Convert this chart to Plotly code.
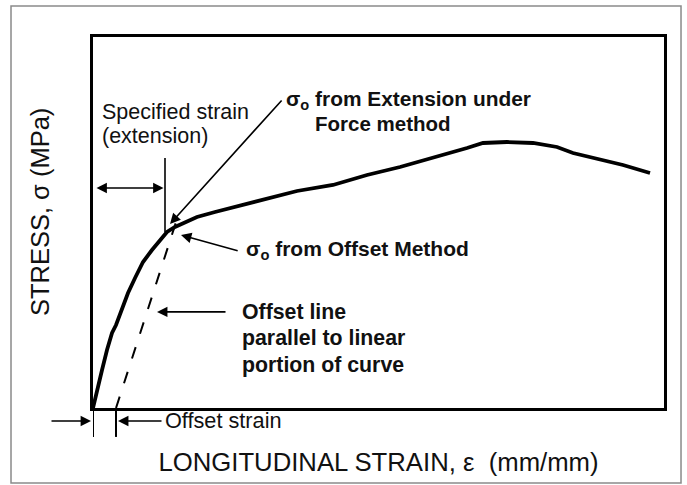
import plotly.graph_objects as go

# ---- data (arbitrary units: strain 0-100, stress 0-100) ----
strain = [0, 0.7, 1.58, 2.45, 3.33, 4.03, 4.9, 6.13, 7.36, 8.76, 10.33, 11.73, 12.96,
          14.36, 16.11, 18.21, 21.37, 23.99, 29.77, 35.73, 42.03, 47.99, 53.77, 59.54,
          65.5, 68.3, 72.5, 77.06, 81.26, 84.06, 88.79, 92.82, 97.55]
stress = [0, 4.85, 10.24, 15.63, 20.22, 22.37, 25.88, 31.0, 35.04, 39.35, 42.59, 45.28,
          47.44, 48.79, 50.13, 51.48, 52.83, 53.91, 56.06, 58.49, 60.11, 62.8, 64.96,
          67.39, 70.08, 71.43, 71.7, 71.43, 70.35, 68.73, 67.12, 65.5, 63.34]

offset_strain = 4.03           # offset strain
offset_line_x = [4.03, 14.54]  # offset line (parallel to linear portion)
offset_line_y = [0, 50.1]
specified_strain = 12.61       # specified strain (extension)
specified_y = [47.4, 67.4]

x_title = "LONGITUDINAL STRAIN, \u03b5  (mm/mm)"
y_title = "STRESS, \u03c3 (MPa)"

FONT = "Liberation Sans, Arial, sans-serif"
XR = [0, 100]
YR = [0, 100]

fig = go.Figure()
fig.add_trace(go.Scatter(x=strain, y=stress, mode="lines",
                         line=dict(color="black", width=3.8), hoverinfo="skip"))
fig.add_trace(go.Scatter(x=offset_line_x, y=offset_line_y, mode="lines",
                         line=dict(color="black", width=2, dash="12px,14px"),
                         hoverinfo="skip"))
fig.add_trace(go.Scatter(x=[specified_strain, specified_strain], y=specified_y, mode="lines",
                         line=dict(color="black", width=1.6), hoverinfo="skip"))


def frac(v, r):
    return (v - r[0]) / (r[1] - r[0])


below_y = -3.5  # level of the offset-strain arrows (data units, below the axis)

shapes = [
    # offset strain tick marks below the axis
    dict(type="line", xref="x", yref="paper", x0=0, x1=0, y0=0, y1=-0.078,
         line=dict(color="black", width=2)),
    dict(type="line", xref="x", yref="paper", x0=offset_strain, x1=offset_strain,
         y0=0, y1=-0.078, line=dict(color="black", width=2)),
    # outer frame
    dict(type="rect", xref="paper", yref="paper", x0=-0.1436, x1=1.0298, y0=-0.2022, y1=1.0836,
         line=dict(color="#8a8a8a", width=1.5)),
]

ann = []


def txt(x, y, s, size=20, bold=False, xref="x", yref="y"):
    if bold:
        s = "<b>" + s + "</b>"
    ann.append(dict(x=x, y=y, xref=xref, yref=yref, text=s, showarrow=False,
                    xanchor="left", yanchor="middle",
                    font=dict(family=FONT, size=size, color="#111")))


def arrow(x, y, ax, ay, side="end", xref="x", yref="y", axref="x", ayref="y", xshift=0):
    ann.append(dict(x=x, y=y, ax=ax, ay=ay, xref=xref, yref=yref, axref=axref, ayref=ayref,
                    text="", showarrow=True, arrowhead=2, arrowsize=1.3, arrowwidth=1.6,
                    arrowcolor="black", arrowside=side, xshift=xshift, standoff=0,
                    startstandoff=0))


txt(1.23, 79.8, "Specified strain", 21.5)
txt(1.23, 73.3, "(extension)", 21.5)
txt(33.5, 83.0, "\u03c3<sub>o</sub> from Extension under", 20.9, True)
txt(38.5, 76.8, "Force method", 20.5, True)
txt(26.5, 42.6, "\u03c3<sub>o</sub> from Offset Method", 21, True)
txt(25.7, 25.9, "Offset line", 21.3, True)
txt(25.7, 18.9, "parallel to linear", 21.3, True)
txt(25.7, 11.6, "portion of curve", 21.3, True)
txt(12.26, frac(below_y, YR), "Offset strain", 21.7, False, xref="x", yref="paper")

# arrows (tip at x/y, tail at ax/ay)
arrow(13.49, 49.6, 33.27, 83.3)                    # extension-under-force arrow
arrow(15.41, 46.6, 25.6, 42.3)                     # offset method arrow
arrow(11.21, 25.9, 23.47, 25.9)                    # offset line arrow
arrow(12.35, 59.3, 0.35, 59.3, side="end+start")   # specified strain double arrow
# offset strain arrows (outside the plot area, tails given in pixels)
arrow(0, frac(below_y, YR), -41, 0, yref="paper", axref="pixel", ayref="pixel", xshift=-2)
arrow(offset_strain, frac(below_y, YR), 45, 0, yref="paper", axref="pixel", ayref="pixel",
      xshift=2)

# y-axis title
ann.append(dict(x=-0.0928, y=0.528, xref="paper", yref="paper", text=y_title,
                showarrow=False, textangle=-90, xanchor="center", yanchor="middle",
                font=dict(family=FONT, size=25.5, color="#111")))

fig.update_layout(
    width=687, height=485,
    margin=dict(l=93, r=23, t=37, b=77),
    paper_bgcolor="white", plot_bgcolor="white",
    showlegend=False,
    shapes=shapes, annotations=ann,
    font=dict(family=FONT, color="#111"),
    xaxis=dict(range=XR, showgrid=False, zeroline=False, showticklabels=False,
               ticks="", showline=True, linecolor="black", linewidth=2.5, mirror=True,
               title=dict(text=x_title, font=dict(family=FONT, size=25.7, color="#111"),
                          standoff=44)),
    yaxis=dict(range=YR, showgrid=False, zeroline=False, showticklabels=False,
               ticks="", showline=True, linecolor="black", linewidth=2.5, mirror=True),
)

fig.write_html("out.html", config={"displayModeBar": False},
               post_script="document.body.style.margin='0';")
